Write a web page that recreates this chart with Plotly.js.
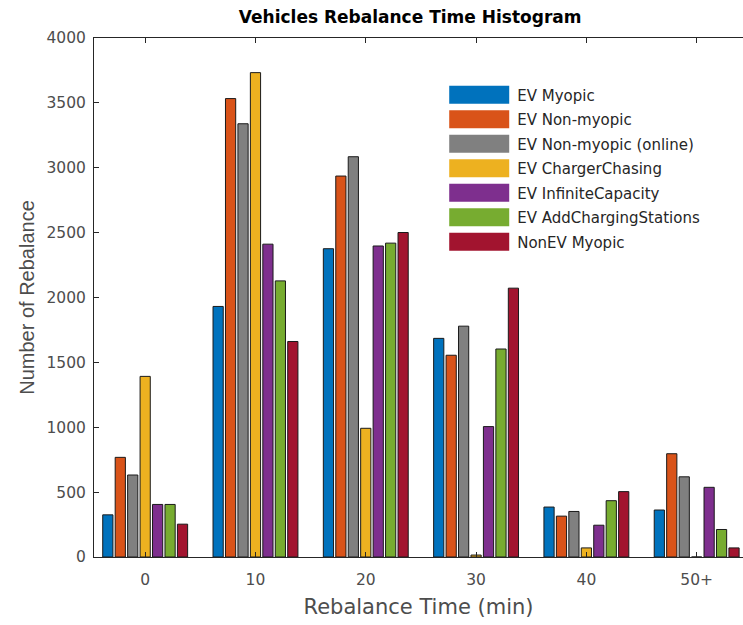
<!DOCTYPE html>
<html>
<head>
<meta charset="utf-8">
<script src="https://cdn.plot.ly/plotly-3.0.1.min.js"></script>
<style>html,body{margin:0;padding:0;background:#fff;}#chart{width:743px;height:625px;}</style>
</head>
<body>
<div id="chart"></div>
<script>
const categories = ['0', '10', '20', '30', '40', '50+'];
const seriesNames = ['EV Myopic', 'EV Non-myopic', 'EV Non-myopic (online)', 'EV ChargerChasing', 'EV InfiniteCapacity', 'EV AddChargingStations', 'NonEV Myopic'];
const evMyopic        = [325, 1931, 2376, 1685, 385, 362];
const evNonMyopic     = [768, 3533, 2936, 1555, 315, 796];
const evNonMyopicOnl  = [632, 3339, 3085, 1779, 351, 618];
const evChargerChase  = [1392, 3733, 992, 15, 70, 0];
const evInfiniteCap   = [405, 2411, 2397, 1005, 245, 537];
const evAddStations   = [405, 2128, 2419, 1603, 434, 212];
const nonEvMyopic     = [253, 1661, 2501, 2072, 504, 70];
const seriesValues = [evMyopic, evNonMyopic, evNonMyopicOnl, evChargerChase, evInfiniteCap, evAddStations, nonEvMyopic];
const colors = ['#0072BD', '#D95319', '#808080', '#EDB120', '#7E2F8E', '#77AC30', '#A2142F'];

const traces = seriesNames.map((name, i) => ({
  type: 'bar',
  name: name,
  x: categories,
  y: seriesValues[i],
  legendgroup: 'g' + i,
  marker: {color: colors[i], line: {color: '#1a1a1a', width: 1}}
}));

const wide = '"DejaVu Sans", Verdana, sans-serif';
const tickFont = {family: wide, size: 15.5, color: '#4d4d4d'};
const layout = {
  width: 743, height: 625,
  margin: {l: 94, r: 0, t: 38, b: 68},
  paper_bgcolor: '#fff', plot_bgcolor: '#fff',
  barmode: 'group', bargap: 0.21, bargroupgap: 0.18,
  title: {text: '<b>Vehicles Rebalance Time Histogram</b>', x: 0.552, xanchor: 'center', y: 0.972, yanchor: 'middle',
          font: {family: wide, size: 17, color: '#000'}},
  xaxis: {
    type: 'category', range: [-0.464, 5.42],
    showline: true, linecolor: '#262626', linewidth: 1, mirror: 'ticks',
    ticks: 'inside', ticklen: 5, tickcolor: '#262626', showgrid: false, zeroline: false,
    tickfont: tickFont, ticklabelstandoff: 8,
    title: {text: 'Rebalance Time (min)', font: {family: wide, size: 21, color: '#4d4d4d'}, standoff: 11}
  },
  yaxis: {
    range: [0, 4000], dtick: 500,
    showline: true, linecolor: '#262626', linewidth: 1,
    ticks: 'inside', ticklen: 5, tickcolor: '#262626', showgrid: false, zeroline: false,
    tickfont: tickFont, ticklabelstandoff: 4,
    title: {text: 'Number of Rebalance', font: {family: 'Arial, "Liberation Sans", sans-serif', size: 20, color: '#4d4d4d'}, standoff: 6}
  },
  legend: {
    x: 0.535, y: 0.922, xanchor: 'left', yanchor: 'top',
    bgcolor: '#fff', borderwidth: 0, tracegroupgap: 2,
    font: {family: wide, size: 15, color: '#262626'},
    itemwidth: 66
  },
  showlegend: true
};

Plotly.newPlot('chart', traces, layout, {displayModeBar: false, staticPlot: true}).then(gd => {
  gd.querySelectorAll('.legend .legendpoints path').forEach(p => {
    p.setAttribute('d', 'M-30,-9H30V9H-30Z');
    p.style.strokeWidth = '0px';
  });
});
</script>
</body>
</html>
